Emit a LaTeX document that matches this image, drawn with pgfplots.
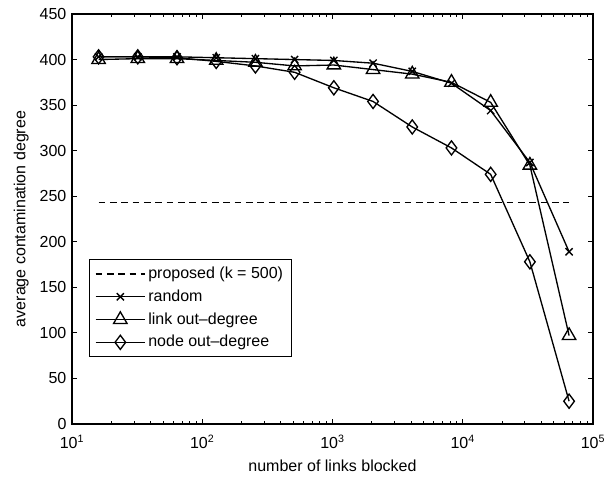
\documentclass[border=0pt]{standalone}
\usepackage{pgfplots}
\pgfplotsset{compat=1.18}
\usepackage{fontspec}
\setmainfont{Liberation Sans}
\begin{document}
\fontsize{12}{14.4}\selectfont
\begin{tikzpicture}[x=0.75pt,y=0.75pt]
\begin{axis}[
  scale only axis,
  width=390.75pt, height=307.5pt,
  xmode=log,
  xmin=10, xmax=100000,
  ymin=0, ymax=450,
  ytick={0,50,...,450},
  xtick={10,100,1000,10000,100000},
  xticklabels={10\textsuperscript{1},10\textsuperscript{2},10\textsuperscript{3},10\textsuperscript{4},10\textsuperscript{5}},
  /pgf/number format/assume math mode=true,
  tick align=inside,
  tick style={black, line width=0.6pt},
  major tick length=4pt,
  minor tick length=2.2pt,
  axis line style={line width=0.9pt},
  xlabel={number of links blocked},
  ylabel={average contamination degree},
  xlabel style={yshift=-0.5pt},
  ylabel style={yshift=0pt},
  every tick label/.append style={font=\fontsize{12}{14.4}\selectfont},
  xticklabel style={yshift=-4pt},
  legend cell align=left,
  legend style={at={(0.033,0.402)}, anchor=north west, draw=black, line width=0.7pt,
    font=\fontsize{12}{14.4}\selectfont, inner xsep=4pt, inner ysep=3.5pt, row sep=2.6pt},
  legend image code/.code={\draw[mark repeat=2,mark phase=2,#1] plot coordinates {(0pt,0pt) (18.5pt,0pt) (37pt,0pt)};},
]
% proposed method, constant level
\addplot[black, line width=1pt, dash pattern=on 5pt off 3.5pt] coordinates {(16,243) (65536,243)};
\addlegendentry{proposed (k = 500)}
% random blocking
\addplot[black, line width=1pt, mark=x, mark size=3.8pt, mark options={solid, line width=1pt}] coordinates {
 (16,403) (32,403) (64,403) (128,402) (256,401) (512,400) (1024,399) (2048,396) (4096,387) (8192,374) (16384,344) (32768,287) (65536,189)};
\addlegendentry{random}
% link out-degree ordering
\addplot[black, line width=1pt, mark=triangle, mark size=5.8pt, mark options={solid, line width=1pt}] coordinates {
 (16,400) (32,401) (64,401) (128,399) (256,397) (512,393) (1024,394) (2048,389) (4096,384) (8192,375) (16384,353) (32768,284) (65536,97)};
\addlegendentry{link out{\textendash}degree}
% node out-degree ordering
\addplot[black, line width=1pt, mark=diamond, mark size=5.3pt, mark options={solid, line width=1pt}] coordinates {
 (16,403) (32,403) (64,402) (128,398) (256,393) (512,386) (1024,369) (2048,354) (4096,326) (8192,303) (16384,274) (32768,178) (65536,25)};
\addlegendentry{node out{\textendash}degree}
\coordinate (sw) at (rel axis cs:0,0);
\coordinate (ne) at (rel axis cs:1,1);
\end{axis}
\pgfresetboundingbox
\path ([shift={(-54pt,-39.75pt)}]sw) rectangle ([shift={(10.5pt,10.5pt)}]ne);
\end{tikzpicture}
\end{document}
